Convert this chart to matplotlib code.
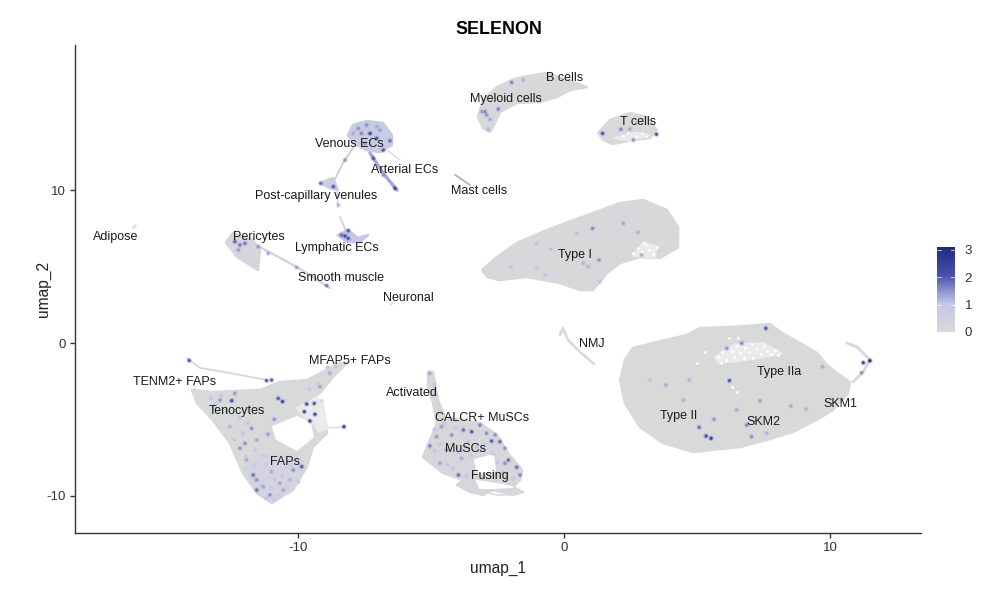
import matplotlib
matplotlib.use("Agg")
import matplotlib.pyplot as plt
from matplotlib.colors import LinearSegmentedColormap, Normalize
from matplotlib.cm import ScalarMappable

plt.rcParams['font.family'] = ['Liberation Sans', 'DejaVu Sans']
plt.rcParams['axes.unicode_minus'] = False

# ---- cluster outlines (umap_1, umap_2, mean expression)
fap_x = [-13.98,-13.2,-11.43,-10.68,-9.66,-8.42,-8.16,-8.68,-9.17,-10.08,-9.1,-8.9,-9.44,-9.66,-10.19,-10.98,-11.54,-12.07,-12.56,-13.2,-13.8]
fap_y = [-3.07,-3.2,-3.07,-2.55,-2.42,-1.31,-1.31,-2.22,-3.27,-4.25,-3.73,-5.88,-6.8,-8.1,-9.6,-10.46,-9.8,-8.5,-6.54,-5.03,-3.92]
faplow_x = [-12.0,-11.5,-10.0,-9.75,-10.19,-10.98,-11.54]
faplow_y = [-8.3,-7.3,-7.3,-8.1,-9.6,-10.4,-9.8]
skm_x = [2.11,2.29,2.59,3.5,4.62,5.11,6.35,7.74,8.2,8.87,9.51,9.89,10.26,10.75,10.68,10.11,9.62,8.61,7.63,6.62,4.85,3.72,2.86,2.29]
skm_y = [-2.42,-1.11,-0.33,0.07,0.52,0.98,1.05,1.24,0.65,0,-0.65,-1.44,-1.96,-2.55,-3.27,-4.38,-4.9,-5.82,-6.34,-6.8,-7.12,-6.54,-5.5,-3.92]
type1_x = [-3.08,-2.52,-1.77,-0.64,1.09,2.11,2.97,3.87,4.29,4.29,3.61,2.86,2.11,1.62,1.09,0.6,-0.15,-1.39,-2.41,-2.89]
type1_y = [4.77,5.62,6.54,7.39,8.5,9.15,9.35,8.69,7.58,6.27,5.56,5.62,5.23,4.58,3.46,3.46,3.92,4.31,4.12,4.31]
tcell_x = [1.28,1.73,2.48,3.12,3.5,3.23,2.59,1.84,1.47]
tcell_y = [13.73,14.58,15.03,14.77,13.92,13.4,13.27,13.01,13.27]
myeloid_x = [-3.23,-3.05,-2.52,-1.77,-0.64,0.34,0.86,0.23,-0.26,-0.9,-1.77,-2.41,-2.59,-2.78,-3.05]
myeloid_y = [14.77,15.88,16.73,17.32,17.65,17.06,16.73,16.54,16.08,15.75,15.69,15.1,14.38,13.79,14.05]
venous_x = [-8.12,-7.93,-7.41,-6.8,-6.47,-6.47,-6.92,-7.41,-7.93]
venous_y = [13.59,14.25,14.51,14.38,13.59,12.94,12.48,12.61,13.07]
postcap_x = [-9.17,-8.68,-8.5,-8.8]
postcap_y = [10.46,10.78,10,10.13]
lymph_x = [-8.5,-8.12,-7.74,-7.37,-7.67,-8.16]
lymph_y = [7.06,7.39,6.86,7.06,6.6,6.6]
peri_x = [-12.71,-12.44,-11.69,-11.43,-11.5,-11.92,-12.29]
peri_y = [6.6,7.19,6.73,6.08,4.77,5.23,5.62]
musc_x = [-5.11,-4.92,-4.85,-4.74,-4.47,-3.16,-2.52,-2.11,-1.58,-1.65,-1.92,-1.54,-1.92,-2.67,-3.05,-3.53,-4.02,-3.8,-4.55,-5.3,-5.04,-4.77,-4.92,-5.11]
musc_y = [-1.9,-1.9,-2.61,-3.73,-4.84,-5.23,-6.01,-7.19,-8.3,-8.95,-9.41,-9.74,-9.93,-9.61,-9.93,-9.74,-9.28,-8.95,-8.5,-7.45,-6.35,-5.23,-3.92,-2.94]

clusters = [
    (fap_x, fap_y, 0.03), (faplow_x, faplow_y, 0.3), (skm_x, skm_y, 0.03), (type1_x, type1_y, 0.05),
    (tcell_x, tcell_y, 0.0), (myeloid_x, myeloid_y, 0.08), (venous_x, venous_y, 0.75),
    (postcap_x, postcap_y, 0.7), (lymph_x, lymph_y, 1.0), (peri_x, peri_y, 0.2),
    (musc_x, musc_y, 0.15),
]

# ---- thin strands of cells (x, y, mean expression)
strand_x = [
    [-14.17,-13.68,-12.74,-11.17], [-13.9,-13.9], [-8.9,-8.27],
    [10.64,11.02,11.5,11.24,10.86], [-7.29,-6.8,-6.28], [-6.65,-6.17],
    [-7.93,-8.31,-8.68], [-8.53,-8.5], [-8.42,-8.16],
    [-11.43,-10.04,-8.8], [-4.1,-3.53], [-16.2,-16.1], [-6.5,-6.44],
    [-0.15,-0.04,0.15,0.6,1.13], [-3.08,-2.45,-1.9],
]
strand_y = [
    [-0.98,-1.63,-1.9,-2.42], [-2.4,-3.1], [-5.55,-5.5],
    [0,-0.26,-1.11,-1.9,-2.55], [12.42,11.11,10], [12.61,11.96],
    [12.75,11.76,10.46], [10,8.89], [8.24,7.19],
    [6.27,4.97,3.59], [11,10.33], [7.5,7.7], [2.5,2.6],
    [0.52,0.98,0.2,-0.59,-1.37], [-9.75,-9.95,-9.9],
]
strand_mean = [0.1,0.0,0.0,0.05,1.3,0.0,0.6,0.3,0.4,0.5,1.2,0.0,0.0,0.02,0.0]
strand_width = [1.3,1.0,0.9,2.0,2.4,1.0,1.3,1.0,1.3,1.5,1.3,1.5,1.2,1.9,1.2]

# ---- regions with no cells, and regions with few cells
hole_x = [
    [-10.94,-10.04,-9.55,-9.44,-10.04,-10.79],
    [-3.35,-2.67,-2.59,-3.23],
    [-3.27,-2.52,-1.95,-2.67,-3.16],
]
hole_y = [
    [-5.49,-4.84,-5.22,-6.13,-6.98,-6.27],
    [-7.65,-7.32,-8.3,-8.5],
    [-9.02,-9.22,-9.41,-9.48,-9.48],
]
sparse_x = [
    [-10.04,-9.25,-8.98,-9.36,-9.81],
    [5.7,6.4,7.5,8.2,7.6,6.5,5.8],
    [2.6,3.0,3.5,3.4],
    [1.9,2.7,3.2,2.5],
    [-9.1,-8.9,-9.2,-9.4],
]
sparse_y = [
    [-4.25,-3.59,-5.23,-5.36,-4.71],
    [-0.9,-0.1,0,-0.7,-0.9,-1.2,-1.3],
    [5.7,6.6,6.3,5.6],
    [13.4,13.75,13.6,13.2],
    [-3.9,-5.6,-5.8,-5.3],
]
gap_x = [5.8,5.95,6.1,6.3,6.4,6.5,6.6,6.75,6.8,6.95,7.05,7.1,7.25,7.4,7.5,7.65,7.8,7.95,8.05,6.2,6.55,5.9,6.3,6.5,5.3,5.0,
         2.6,2.8,2.95,3.1,3.2,3.35,3.0,3.5, 2.2,2.4,2.7,2.95,3.1]
gap_y = [-0.9,-0.6,-1.1,-0.5,-0.9,-0.2,-0.65,-1.0,-0.3,-0.6,-0.05,-0.95,-0.4,-0.7,-0.2,-0.55,-0.75,-0.45,-0.8,0.3,0.35,-1.3,-2.9,-3.2,-0.6,-1.3,
         5.9,6.2,5.95,6.4,6.1,5.85,6.55,6.3, 13.5,13.7,13.5,13.75,13.5]

# ---- individually visible expressing cells
fap_px = [-14.09,-11.18,-10.99,-12.49,-10.74,-10.58,-9.67,-9.39,-9.76,-9.36,-9.55,-8.27,-10.89,-11.74,-11.99,-12.18,-11.55,-12.37,-12.93,-11.68,-11.55,-11.55,-10.18,-9.86,-11.05,-10.99,-10.68,-11.3,-10.55,-10.3,-11.93,-8.8,-9.17,-11.12,-12.56]
fap_py = [-1.15,-2.46,-2.42,-3.77,-3.62,-3.83,-3.99,-3.95,-4.49,-4.66,-5.1,-5.47,-4.99,-5.58,-6.56,-6.88,-6.34,-3.29,-3.73,-8.63,-9.61,-8.95,-8.3,-8.08,-9.93,-8.41,-9.17,-9.39,-9.61,-8.95,-7.65,-1.98,-2.86,-5.97,-5.47]
fap_pv = [2,2,2,2.2,2,2.4,2.2,2,2.2,2.2,2.5,2.5,1.5,1.5,1.5,1.5,1.3,1.4,1.4,1.8,1.8,1.5,1.5,2,1.5,1.3,1.3,1.3,1.3,1.2,1.3,1.3,1.3,1.4,1.2]
faint_fap_x = [-13.3,-13.1,-12.9,-13.2,-12.7,-12.2,-11.9,-11.6,-11.3,-12.0,-11.7,-11.2,-10.9,-10.6,-10.3,-10.0,-11.4,-11.0,-10.7,-10.4,-11.2,-10.9,-8.9,-8.6,-9.3,-9.6,-12.4,-12.1]
faint_fap_y = [-3.6,-3.9,-3.4,-4.2,-4.4,-4.9,-5.2,-7.0,-7.3,-7.4,-8.0,-7.9,-8.9,-8.6,-8.0,-9.0,-9.3,-9.5,-9.9,-9.4,-10.1,-10.2,-1.6,-1.5,-2.6,-3.0,-6.3,-5.9]
musc_px = [-5.04,-4.79,-4.6,-4.22,-3.78,-3.47,-3.16,-2.91,-2.72,-2.41,-2.22,-2.09,-2.22,-1.78,-1.65,-3.97,-4.41,-3.85,-4.66,-5.04,-2.59]
musc_py = [-6.73,-6.12,-5.47,-6.01,-5.69,-5.8,-5.36,-5.9,-6.41,-6.45,-6.88,-7.65,-7.86,-8.12,-8.63,-8.63,-6.99,-7.54,-7.86,-1.98,-6.01]
musc_pv = [1.6,1.4,1.4,1.5,1.8,2,1.6,1.5,2,1.8,1.5,1.8,1.5,1.8,1.6,1.8,1.4,1.3,1.3,1.3,1.5]
faint_musc_x = [-4.9,-4.5,-4.1,-3.6,-3.3,-3.0,-2.7,-4.9,-4.4,-4.0,-3.5,-3.2,-2.5,-2.3,-4.7,-4.2,-3.7,-1.9,-4.9,-4.8]
faint_musc_y = [-5.6,-5.2,-5.5,-6.4,-6.8,-6.6,-7.2,-7.0,-7.9,-7.1,-7.3,-7.0,-7.8,-8.4,-6.6,-8.2,-8.6,-8.8,-2.7,-3.4]
skm_px = [7.59,6.68,6.12,6.22,3.83,3.23,4.71,4.49,5.34,5.53,5.08,5.64,6.49,7.05,7.37,8.53,9.1,9.72,11.25,11.5,11.19,6.87,7.62]
skm_py = [0.96,-0.02,-0.35,-2.46,-2.75,-2.42,-2.42,-3.73,-6.08,-6.23,-5.51,-4.99,-4.38,-6.12,-3.77,-4.12,-4.31,-1.55,-1.29,-1.16,-1.94,-5.36,-5.9]
skm_pv = [2,1.6,1.5,2,1.3,1.1,1.2,1.2,2.3,2.5,1.8,1.5,1.3,1.5,1.3,1.3,1.2,1.3,2.5,3,1.5,1.6,1.2]
type1_px = [1.08,2.23,2.79,1.32,0.73,0.91,2.92,-0.5,-1.03,-2.0,-0.71,1.35,-1.03,0.48]
type1_py = [7.49,7.82,7.23,5.42,5.21,4.99,5.75,6.12,4.88,4.99,4.44,4.01,6.51,7.17]
type1_pv = [1.6,1.3,1.2,1.5,1.2,1.2,1.3,1.1,1,1.1,1.1,1.1,1.1,1.1]
immune_px = [-1.97,-2.47,-2.97,-3.09,-2.91,-2.78,-2.85,-1.53,1.45,2.14,2.48,3.48,2.61]
immune_py = [17.04,15.29,15.12,15.12,14.9,14.62,13.97,17.19,13.7,13.97,13.99,13.64,13.27]
immune_pv = [1.6,1.6,1.6,1.4,1.5,1.3,1.2,1.2,2,1.6,1.3,2,1.5]
vessel_px = [-7.73,-7.42,-7.29,-7.04,-7.92,-6.79,-6.54,-7.48,-7.17,-7.61,-6.92,-7.04,-6.35,-6.79,-9.14,-8.67,-8.23,-8.48,-8.23,-8.11,-8.36,-8.11,-12.37,-12.18,-11.99,-12.24,-11.49,-11.12,-10.05,-8.92]
vessel_py = [14.03,14.25,13.7,13.38,13.7,12.61,13.22,13.05,12.07,13.7,13.92,14.14,10.11,10.98,10.44,10.22,11.96,9.02,6.99,7.34,7.06,6.84,6.62,6.41,6.51,6.08,6.3,5.86,4.95,3.75]
vessel_pv = [1.5,1.5,2.2,2,1.3,2,1.8,1.5,2,1.6,1.4,1.3,2.3,1.5,1.8,2,1.5,1.2,2.2,2,1.8,2,1.9,1.7,1.7,1.4,1.5,1.3,1.4,1.7]

point_x = fap_px + musc_px + skm_px + type1_px + immune_px + vessel_px
point_y = fap_py + musc_py + skm_py + type1_py + immune_py + vessel_py
point_v = fap_pv + musc_pv + skm_pv + type1_pv + immune_pv + vessel_pv
faint_x = faint_fap_x + faint_musc_x
faint_y = faint_fap_y + faint_musc_y
faint_level = 0.9

# ---- cluster labels
label_text = ["B cells","Myeloid cells","T cells","Venous ECs","Arterial ECs","Post-capillary venules","Mast cells","Adipose","Pericytes","Lymphatic ECs","Type I","Smooth muscle","Neuronal","NMJ","MFAP5+ FAPs","TENM2+ FAPs","Activated","Type IIa","SKM1","Tenocytes","CALCR+ MuSCs","Type II","SKM2","MuSCs","FAPs","Fusing"]
label_x = [0.04,-2.18,2.78,-8.08,-5.98,-9.32,-3.2,-16.84,-11.47,-8.53,0.41,-8.38,-5.86,1.05,-8.05,-14.62,-5.71,8.08,10.38,-12.29,-3.08,4.32,7.48,-3.72,-10.49,-2.78]
label_y = [17.39,16.01,14.51,13.07,11.37,9.67,10,6.99,6.99,6.27,5.82,4.31,3.0,0,-1.11,-2.48,-3.2,-1.83,-3.92,-4.38,-4.84,-4.71,-5.1,-6.86,-7.71,-8.63]

cbar_ticks = [0, 1, 2, 3]
x_ticks = [-10, 0, 10]
y_ticks = [-10, 0, 10]

cmap = LinearSegmentedColormap.from_list(
    "expr", [(0, "#d9d9d9"), (1/3, "#c3c6e6"), (2/3, "#4a52ab"), (1, "#1f2a7e")])
norm = Normalize(0, 3.1)

W, H = 997, 600
fig = plt.figure(figsize=(W/100, H/100), dpi=100)
ax = fig.add_axes([75/W, 1-533/H, (921-75)/W, (533-45)/H])
ax.set_xlim(-18.38, 13.42)
ax.set_ylim(-12.42, 19.48)

for cx, cy, m in clusters:
    c = cmap(norm(m))
    ax.fill(cx, cy, facecolor=c, edgecolor=c, linewidth=1.8, joinstyle='round', zorder=1)
for sx, sy, m, w in zip(strand_x, strand_y, strand_mean, strand_width):
    ax.plot(sx, sy, color=cmap(norm(m)), lw=w, solid_capstyle='round', solid_joinstyle='round', zorder=1.1)
for hx, hy in zip(sparse_x, sparse_y):
    ax.fill(hx, hy, facecolor='#ebebeb', edgecolor='#ebebeb', linewidth=1.5, joinstyle='round', zorder=1.15)
for hx, hy in zip(hole_x, hole_y):
    ax.fill(hx, hy, facecolor='white', edgecolor='white', linewidth=1.5, joinstyle='round', zorder=1.2)
ax.scatter(gap_x, gap_y, s=4, c='white', linewidths=0, zorder=1.3)
ax.scatter(faint_x, faint_y, color=cmap(norm(faint_level)), s=9, linewidths=0, zorder=1.5)
ax.scatter(point_x, point_y, c=point_v, cmap=cmap, norm=norm, s=16, alpha=0.25, linewidths=0, zorder=1.8)
ax.scatter(point_x, point_y, c=point_v, cmap=cmap, norm=norm, s=5, linewidths=0, zorder=2)

for t, x, y in zip(label_text, label_x, label_y):
    ax.text(x, y - 0.06, t, ha='center', va='center', fontsize=9, color='#1a1a1a', zorder=3)

for s in ('top', 'right'):
    ax.spines[s].set_visible(False)
for s in ('left', 'bottom'):
    ax.spines[s].set_linewidth(1.0)
    ax.spines[s].set_color('#333333')
ax.set_xticks(x_ticks)
ax.set_yticks(y_ticks)
ax.tick_params(labelsize=9.5, length=3.5, width=1.0, color='#333333', labelcolor='#333333', pad=3)
ax.set_xlabel("umap_1", fontsize=11.2, labelpad=5, color='#222222')
ax.set_ylabel("umap_2", fontsize=11.2, labelpad=-3, color='#222222')
fig.text(498.5/W, 1-30/H, "SELENON", ha='center', va='center', fontsize=12.9, fontweight='bold')

cax = fig.add_axes([937/W, 1-332/H, 18/W, 85/H])
cb = fig.colorbar(ScalarMappable(norm=norm, cmap=cmap), cax=cax)
cb.outline.set_visible(False)
cb.set_ticks(cbar_ticks)
cax.tick_params(length=0, labelsize=9.5, pad=7, labelcolor='#333333')
for v in cbar_ticks[1:]:
    cax.plot([0, 0.2], [v, v], color='white', lw=0.5, transform=cax.get_yaxis_transform())
    cax.plot([0.8, 1], [v, v], color='white', lw=0.5, transform=cax.get_yaxis_transform())

fig.savefig("out.png", dpi=100)
